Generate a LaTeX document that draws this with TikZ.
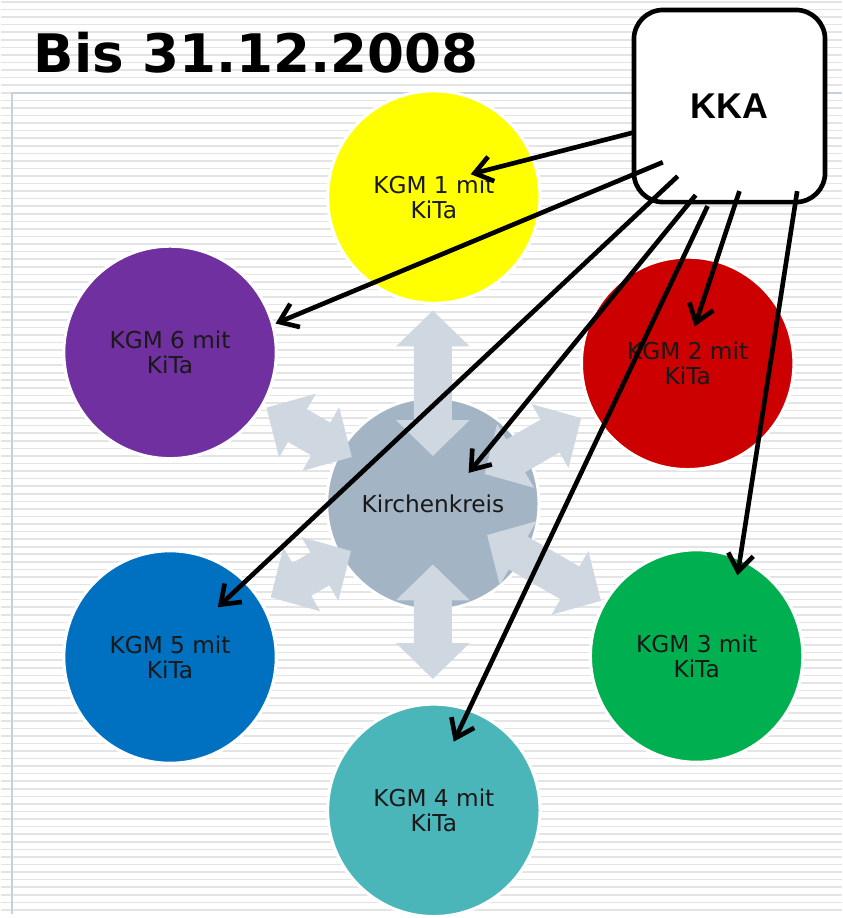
\documentclass[tikz,border=0pt]{standalone}
\usepackage{fontspec}
\setmainfont{DejaVu Sans}
\newfontfamily\kkafont{Liberation Sans}
\usetikzlibrary{arrows.meta}

\definecolor{gelb}{HTML}{FFFF00}
\definecolor{lila}{HTML}{7030A0}
\definecolor{rot}{HTML}{CC0000}
\definecolor{blau}{HTML}{0070C0}
\definecolor{gruen}{HTML}{00B050}
\definecolor{tuerkis}{HTML}{4BB6BA}
\definecolor{kkgrau}{HTML}{A3B4C4}
\definecolor{pfeilgrau}{HTML}{CFD7E1}
\definecolor{rahmenfarbe}{HTML}{C6D0DE}
\definecolor{streifenfarbe}{HTML}{E4E4E4}

\tikzset{
  streifen/.style={draw=streifenfarbe, line width=1.2pt},
  rahmen/.style={draw=rahmenfarbe, line width=1.5pt},
  gemeinde/.style={circle, draw=white, line width=2.25pt, minimum size=160pt, inner sep=0pt,
    align=center, text=black!90, font=\fontsize{17.5}{18.75}\selectfont},
  kasten/.style={draw, fill=white, line width=3.5pt, rounded corners=22pt,
    minimum width=144pt, minimum height=144.75pt, font=\kkafont\bfseries\fontsize{27}{30}\selectfont},
  zuweisung/.style={-{Straight Barb[length=13pt,width=19pt]}, line width=3.5pt},
  pfeil/.style={fill=pfeilgrau}
}

\begin{document}
\begin{tikzpicture}[x=0.75pt,y=-0.75pt]
    % Hintergrund
    \fill[white] (0,0) rectangle (845,918);
    \foreach \y in {2,9.6,...,918}
        \draw[streifen] (0,\y) -- (845,\y);
    \draw[rahmen] (845,93) -- (11,93) -- (11,918);

    % Titel
    \node[anchor=base west, inner sep=0pt, font=\bfseries\fontsize{40}{48}\selectfont] (titel) at (33,73) {Bis 31.12.2008};

    % Kirchenkreis mit Doppelpfeilen
    \node[gemeinde, fill=kkgrau] (kk) at (434,506) {};
    \foreach \a/\ri/\ra in {90/48/194, -90/61/176, 150/94/193, -150/95/188, 30/60/172, -30/63/195}
        \fill[pfeil, shift={(434,506)}, rotate=\a] (\ri,0) -- (\ri+36,37) -- (\ri+36,19) -- (\ra-36,19)
            -- (\ra-36,37) -- (\ra,0) -- (\ra-36,-37) -- (\ra-36,-19) -- (\ri+36,-19) -- (\ri+36,-37) -- cycle;
    \node[font=\fontsize{17.5}{20}\selectfont, text=black!90] (kktext) at (kk.center) {Kirchenkreis};

    % Gemeinden
    \node[gemeinde, fill=gelb] (kgm1) at (435,198) {KGM 1 mit\\KiTa};
    \node[gemeinde, fill=rot] (kgm2) at (690,365) {KGM 2 mit\\KiTa};
    \node[gemeinde, fill=gruen] (kgm3) at (699,659) {KGM 3 mit\\KiTa};
    \node[gemeinde, fill=tuerkis] (kgm4) at (435,814) {KGM 4 mit\\KiTa};
    \node[gemeinde, fill=blau] (kgm5) at (170,660) {KGM 5 mit\\KiTa};
    \node[gemeinde, fill=lila] (kgm6) at (170,354) {KGM 6 mit\\KiTa};

    % KKA
    \node[kasten] (kka) at (732,106.5) {KKA};

    % Pfeile von KKA
    \coordinate (s1) at (636,133); \coordinate (e1) at (472,175);
    \coordinate (s6) at (665,163); \coordinate (e6) at (276,325);
    \coordinate (s5) at (680,177); \coordinate (e5) at (218,610);
    \coordinate (sk) at (698,196); \coordinate (ek) at (470,475);
    \coordinate (s4) at (710,207); \coordinate (e4) at (455,745);
    \coordinate (s2) at (742,192); \coordinate (e2) at (697,328);
    \coordinate (s3) at (800,192); \coordinate (e3) at (740,578);
    \foreach \n in {1,6,5,k,4,2,3}
        \draw[zuweisung] (s\n) -- (e\n);
\end{tikzpicture}
\end{document}
